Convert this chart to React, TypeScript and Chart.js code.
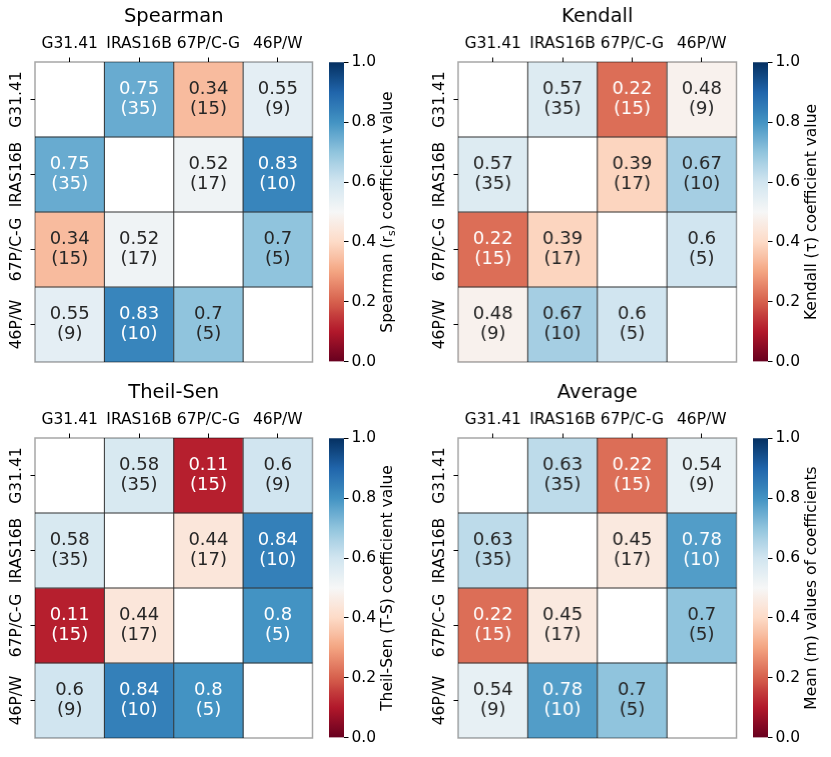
import React, { useEffect, useRef } from 'react';
import { Chart, registerables } from 'chart.js';

Chart.register(...registerables);
Chart.defaults.font.family = '"DejaVu Sans", sans-serif';

const categories = ['G31.41', 'IRAS16B', '67P/C-G', '46P/W'];
const pairCounts: (number | null)[][] = [
  [null, 35, 15, 9],
  [35, null, 17, 10],
  [15, 17, null, 5],
  [9, 10, 5, null],
];
const spearmanValues: (number | null)[][] = [
  [null, 0.75, 0.34, 0.55],
  [0.75, null, 0.52, 0.83],
  [0.34, 0.52, null, 0.7],
  [0.55, 0.83, 0.7, null],
];
const kendallValues: (number | null)[][] = [
  [null, 0.57, 0.22, 0.48],
  [0.57, null, 0.39, 0.67],
  [0.22, 0.39, null, 0.6],
  [0.48, 0.67, 0.6, null],
];
const theilSenValues: (number | null)[][] = [
  [null, 0.58, 0.11, 0.6],
  [0.58, null, 0.44, 0.84],
  [0.11, 0.44, null, 0.8],
  [0.6, 0.84, 0.8, null],
];
const averageValues: (number | null)[][] = [
  [null, 0.63, 0.22, 0.54],
  [0.63, null, 0.45, 0.78],
  [0.22, 0.45, null, 0.7],
  [0.54, 0.78, 0.7, null],
];
const colorbarTicks = [0, 0.2, 0.4, 0.6, 0.8, 1.0];

const RDBU = ['#67001f', '#b2182b', '#d6604d', '#f4a582', '#fddbc7', '#f7f7f7', '#d1e5f0', '#92c5de', '#4393c3', '#2166ac', '#053061'];

function hexToRgb(h: string): number[] {
  return [parseInt(h.slice(1, 3), 16), parseInt(h.slice(3, 5), 16), parseInt(h.slice(5, 7), 16)];
}
function cmapRgb(v: number): number[] {
  const idx = Math.min(255, Math.max(0, Math.floor(v * 256)));
  const t = (idx / 255) * 10;
  const i = Math.min(9, Math.floor(t));
  const f = t - i;
  const a = hexToRgb(RDBU[i]);
  const b = hexToRgb(RDBU[i + 1]);
  return a.map((c, k) => c + (b[k] - c) * f);
}
function cmap(v: number): string {
  const [r, g, b] = cmapRgb(v);
  return `rgb(${Math.round(r)},${Math.round(g)},${Math.round(b)})`;
}
function luminance(v: number): number {
  const rgb = cmapRgb(v).map((c) => {
    const s = c / 255;
    return s <= 0.03928 ? s / 12.92 : Math.pow((s + 0.055) / 1.055, 2.4);
  });
  return 0.2126 * rgb[0] + 0.7152 * rgb[1] + 0.0722 * rgb[2];
}

type PanelProps = {
  title: string;
  values: (number | null)[][];
  cbPre: string;
  cbSub: string;
  cbPost: string;
  left: number;
  top: number;
};

const AXW = 35;
const AXH = 62;
const HW = 277.5;
const HH = 300;
const CB_GAP = 294.3;
const CBW = 15;

function Panel({ title, values, cbPre, cbSub, cbPost, left, top }: PanelProps) {
  const heatRef = useRef<HTMLCanvasElement>(null);
  const cbRef = useRef<HTMLCanvasElement>(null);

  useEffect(() => {
    const datasets = categories.map((_, i) => ({
      label: categories[i],
      data: categories.map((_, j) => (values[i][j] == null ? null : [i, i + 1])) as any,
      backgroundColor: categories.map((_, j) => (values[i][j] == null ? 'rgba(0,0,0,0)' : cmap(values[i][j] as number))),
      borderWidth: 0,
      grouped: false,
      barPercentage: 1,
      categoryPercentage: 1,
    }));

    const heatPlugin = {
      id: 'heatText',
      afterDraw(chart: any) {
        const ctx = chart.ctx;
        const xs = chart.scales.x;
        const ys = chart.scales.y;
        const ca = chart.chartArea;
        ctx.save();
        // grid lines between cells
        ctx.strokeStyle = '#333';
        ctx.lineWidth = 1;
        for (let k = 1; k < categories.length; k++) {
          const x = xs.getPixelForValue(k - 0.5);
          ctx.beginPath();
          ctx.moveTo(x, ca.top);
          ctx.lineTo(x, ca.bottom);
          ctx.stroke();
          const y = ys.getPixelForValue(k);
          ctx.beginPath();
          ctx.moveTo(ca.left, y);
          ctx.lineTo(ca.right, y);
          ctx.stroke();
        }
        ctx.strokeStyle = 'rgba(0,0,0,0.35)';
        ctx.lineWidth = 1.5;
        ctx.strokeRect(ca.left, ca.top, ca.right - ca.left, ca.bottom - ca.top);

        // annotations
        ctx.font = '18px "DejaVu Sans", sans-serif';
        ctx.textAlign = 'center';
        ctx.textBaseline = 'middle';
        for (let i = 0; i < categories.length; i++) {
          for (let j = 0; j < categories.length; j++) {
            const v = values[i][j];
            if (v == null) continue;
            const cx = xs.getPixelForValue(j);
            const cy = ys.getPixelForValue(i + 0.5);
            ctx.fillStyle = luminance(v) > 0.408 ? '#262626' : '#ffffff';
            ctx.fillText(String(v), cx, cy - 10);
            ctx.fillText(`(${pairCounts[i][j]})`, cx, cy + 10);
          }
        }

        // title
        ctx.fillStyle = '#000';
        ctx.font = '19.5px "DejaVu Sans", sans-serif';
        ctx.fillText(title, (ca.left + ca.right) / 2, ca.top - 45);

        // y tick labels (rotated)
        ctx.font = '15.5px "DejaVu Sans", sans-serif';
        for (let i = 0; i < categories.length; i++) {
          const cy = ys.getPixelForValue(i + 0.5);
          ctx.save();
          ctx.translate(ca.left - 18.4, cy);
          ctx.rotate(-Math.PI / 2);
          ctx.fillText(categories[i], 0, 0);
          ctx.restore();
        }
        ctx.restore();
      },
    };

    const heat = new Chart(heatRef.current as HTMLCanvasElement, {
      type: 'bar',
      data: { labels: categories, datasets },
      options: {
        animation: false,
        responsive: true,
        maintainAspectRatio: false,
        layout: { padding: { left: 0, top: 0, right: 4, bottom: 4 } },
        plugins: { legend: { display: false }, tooltip: { enabled: false }, title: { display: false } },
        events: [],
        scales: {
          x: {
            type: 'category',
            position: 'top',
            offset: true,
            grid: { offset: false, drawOnChartArea: false, drawTicks: true, tickLength: 4.5, color: '#000', lineWidth: 1 },
            border: { display: false },
            ticks: { color: '#000', font: { size: 15.5 }, padding: 4.5, maxRotation: 0, minRotation: 0, autoSkip: false },
            afterFit: (s: any) => {
              s.height = AXH;
            },
          },
          y: {
            type: 'linear',
            min: 0,
            max: categories.length,
            reverse: true,
            afterBuildTicks: (s: any) => {
              s.ticks = categories.map((_, i) => ({ value: i + 0.5 }));
            },
            ticks: { display: false },
            grid: { drawOnChartArea: false, drawTicks: true, tickLength: 4.5, color: '#000', lineWidth: 1 },
            border: { display: false },
            afterFit: (s: any) => {
              s.width = AXW;
            },
          },
        },
      } as any,
      plugins: [heatPlugin],
    });

    const cbPlugin = {
      id: 'cbTitle',
      afterDraw(chart: any) {
        const ctx = chart.ctx;
        const ca = chart.chartArea;
        ctx.save();
        const fs = 15.5;
        const mainFont = `${fs}px "DejaVu Sans", sans-serif`;
        const subFont = `${fs * 0.7}px "DejaVu Sans", sans-serif`;
        ctx.font = mainFont;
        const w1 = ctx.measureText(cbPre).width;
        const w3 = ctx.measureText(cbPost).width;
        ctx.font = subFont;
        const w2 = cbSub ? ctx.measureText(cbSub).width : 0;
        const total = w1 + w2 + w3;
        ctx.translate(ca.right + 44, (ca.top + ca.bottom) / 2);
        ctx.rotate(-Math.PI / 2);
        ctx.fillStyle = '#000';
        ctx.textBaseline = 'middle';
        ctx.textAlign = 'left';
        let x = -total / 2;
        ctx.font = mainFont;
        ctx.fillText(cbPre, x, 0);
        x += w1;
        if (cbSub) {
          ctx.font = subFont;
          ctx.fillText(cbSub, x, fs * 0.3);
          x += w2;
        }
        ctx.font = mainFont;
        ctx.fillText(cbPost, x, 0);
        ctx.restore();
      },
    };

    const cb = new Chart(cbRef.current as HTMLCanvasElement, {
      type: 'bar',
      data: {
        labels: [''],
        datasets: [
          {
            data: [[0, 1]] as any,
            backgroundColor: (c: any) => {
              const ca = c.chart.chartArea;
              if (!ca) return '#888';
              const g = c.chart.ctx.createLinearGradient(0, ca.bottom, 0, ca.top);
              for (let k = 0; k <= 50; k++) g.addColorStop(k / 50, cmap(k / 50));
              return g;
            },
            borderWidth: 0,
            barPercentage: 1,
            categoryPercentage: 1,
          },
        ],
      },
      options: {
        animation: false,
        responsive: true,
        maintainAspectRatio: false,
        events: [],
        layout: { padding: { left: 0, right: 0, top: 12, bottom: 12 } },
        plugins: { legend: { display: false }, tooltip: { enabled: false } },
        scales: {
          x: { display: false },
          y: {
            position: 'right',
            min: 0,
            max: 1,
            afterBuildTicks: (s: any) => {
              s.ticks = colorbarTicks.map((v) => ({ value: v }));
            },
            ticks: { color: '#000', font: { size: 15.5 }, padding: 3, callback: (v: any) => Number(v).toFixed(1) },
            grid: { drawOnChartArea: false, drawTicks: true, tickLength: 4.5, color: '#000', lineWidth: 1 },
            border: { display: false },
            afterFit: (s: any) => {
              s.width = 55;
            },
          },
        },
      } as any,
      plugins: [cbPlugin],
    });

    return () => {
      heat.destroy();
      cb.destroy();
    };
  }, []);

  return (
    <>
      <div style={{ position: 'absolute', left: left - AXW, top: top - AXH, width: AXW + HW + 4, height: AXH + HH + 4 }}>
        <canvas ref={heatRef} />
      </div>
      <div style={{ position: 'absolute', left: left + CB_GAP, top: top - 12, width: CBW + 55, height: HH + 24 }}>
        <canvas ref={cbRef} />
      </div>
    </>
  );
}

export default function App() {
  return (
    <div style={{ position: 'absolute', left: 0, top: 0, width: 831, height: 757, background: '#fff' }}>
      <Panel title="Spearman" values={spearmanValues} cbPre="Spearman (r" cbSub="s" cbPost=") coefficient value" left={34.7} top={62.3} />
      <Panel title="Kendall" values={kendallValues} cbPre="Kendall (τ) coefficient value" cbSub="" cbPost="" left={458.3} top={62.3} />
      <Panel title="Theil-Sen" values={theilSenValues} cbPre="Theil-Sen (T-S) coefficient value" cbSub="" cbPost="" left={34.7} top={438.3} />
      <Panel title="Average" values={averageValues} cbPre="Mean (m) values of coefficients" cbSub="" cbPost="" left={458.3} top={438.3} />
    </div>
  );
}
